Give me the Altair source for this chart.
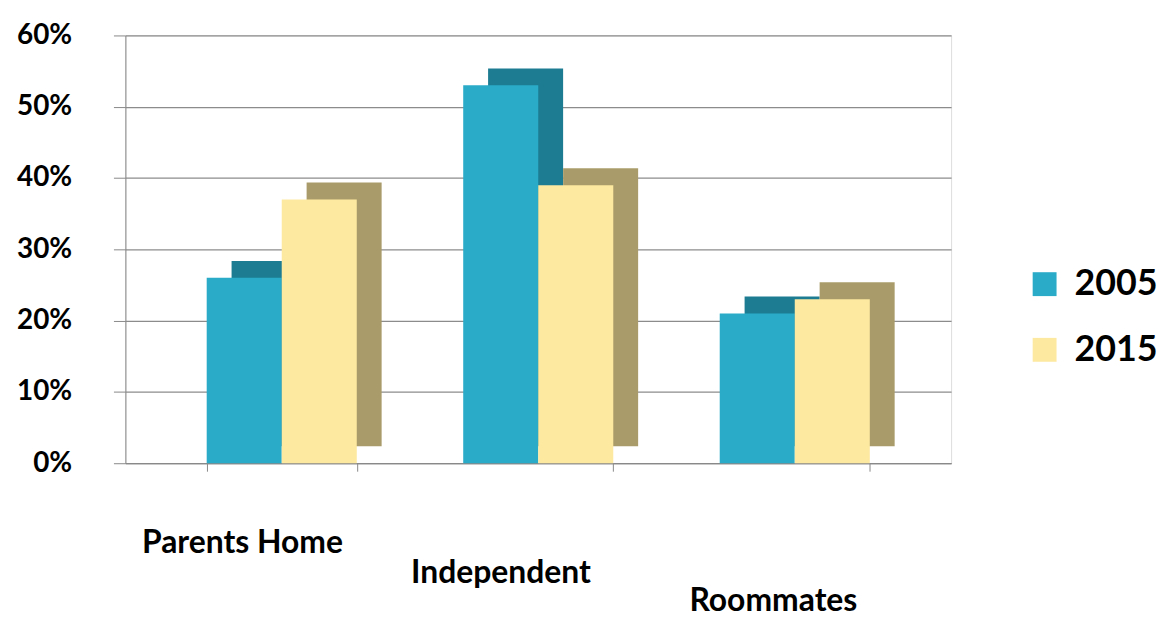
import altair as alt
import pandas as pd

categories = ["Parents Home", "Independent", "Roommates"]
years = ["2005", "2015"]
values_2005 = [0.26, 0.53, 0.21]
values_2015 = [0.37, 0.39, 0.23]

rows = []
for c, a, b in zip(categories, values_2005, values_2015):
    rows.append({"category": c, "year": "2005", "share": a})
    rows.append({"category": c, "year": "2015", "share": b})
df = pd.DataFrame(rows)

FONT = "Lato"
front_colors = ["#2aabc8", "#fde9a0"]
side_colors = ["#1d7c92", "#aa9c6a"]

W, H = 830, 430
P_IN, P_OUT = 0.415, 0.317
step = W / (len(categories) - P_IN + 2 * P_OUT)
band = step * (1 - P_IN)
DEPTH_X, DEPTH_Y = 25, 17

x_enc = alt.X("category:N", sort=categories, title=None,
              scale=alt.Scale(paddingInner=P_IN, paddingOuter=P_OUT),
              axis=alt.Axis(labelAngle=0, labelFontSize=32, labelFontWeight="bold",
                            labelFont=FONT, labelColor="black", labelLimit=0,
                            labelPadding={"condition": [
                                {"test": "datum.value === 'Independent'", "value": 87},
                                {"test": "datum.value === 'Roommates'", "value": 115}],
                                "value": 57},
                            labelOffset={"condition": [
                                {"test": "datum.value === 'Independent'", "value": -38},
                                {"test": "datum.value === 'Roommates'", "value": -22}],
                                "value": -40},
                            domainColor="#888888", tickColor="#888888", tickSize=8,
                            tickBand="extent"))
y_enc = alt.Y("share:Q", title=None,
              scale=alt.Scale(domain=[0, 0.6]),
              axis=alt.Axis(values=[0, 0.1, 0.2, 0.3, 0.4, 0.5, 0.6], format=".0%",
                            labelFontSize=28, labelFontWeight="bold", labelFont=FONT,
                            labelColor="black", labelPadding=42,
                            gridColor="#8c8c8c", gridWidth=1.3,
                            domainColor="#888888", tickColor="#888888", tickSize=12))

side = alt.Chart(df).mark_bar(yOffset=-DEPTH_Y).encode(
    x=x_enc, y=y_enc,
    xOffset=alt.XOffset("year:N", sort=years,
                        scale=alt.Scale(range=[DEPTH_X, band + DEPTH_X])),
    color=alt.Color("year:N", scale=alt.Scale(domain=years, range=side_colors), legend=None),
)

front = alt.Chart(df).mark_bar().encode(
    x=x_enc, y=y_enc,
    xOffset=alt.XOffset("year:N", sort=years, scale=alt.Scale(range=[0, band])),
    color=alt.Color("year:N", scale=alt.Scale(domain=years, range=front_colors),
                    legend=alt.Legend(title=None, orient="none", legendX=906, legendY=232,
                                      symbolType="square", symbolSize=576,
                                      symbolStrokeWidth=0, labelFontSize=36,
                                      labelFontWeight="bold", labelFont=FONT,
                                      labelColor="black", rowPadding=30,
                                      labelOffset=12)),
)

chart = alt.layer(side, front).resolve_scale(
    color="independent", xOffset="independent"
).properties(
    width=W, height=H,
    padding={"left": 8, "top": 12, "right": 5, "bottom": 2},
).configure_view(fill="#f2f2f2", stroke=None).configure(background="white")

chart.save("out.html", embed_options={"renderer": "svg", "actions": False})
